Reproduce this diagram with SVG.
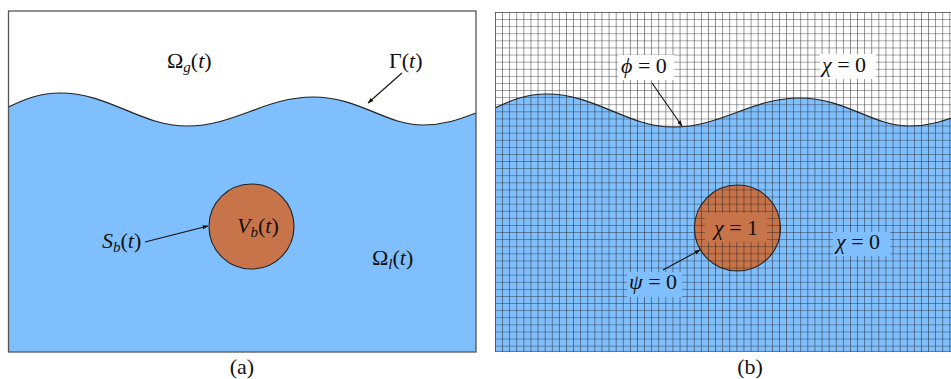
<svg xmlns="http://www.w3.org/2000/svg" width="951" height="379" viewBox="0 0 951 379">
<style>
text{font-family:"Liberation Serif",serif;font-size:22px;fill:#111}
.i{font-style:italic}
.s{font-size:15px;font-style:italic}
.cap{text-anchor:middle}
.bd{fill:none;stroke:#555;stroke-width:1.3}
.wave{fill:none;stroke:#222;stroke-width:1.2}
.liq{fill:#80bffe;stroke:none}
.bub{fill:#c8744a;stroke:#222;stroke-width:1.1}
.arr{fill:none;stroke:#111;stroke-width:1.1;marker-end:url(#ah)}
</style>
<defs>
<marker id="ah" viewBox="0 0 10 10" refX="9" refY="5" markerWidth="6" markerHeight="6" orient="auto" markerUnits="userSpaceOnUse">
<path d="M0,1.5 L10,5 L0,8.5 Z" fill="#111"/>
</marker>
<pattern id="grid" patternUnits="userSpaceOnUse" x="495" y="12" width="7.1" height="7.1">
<path d="M0,0 H7.1 M0,0 V7.1" fill="none" stroke="#1a1a1a" stroke-width="1.1" opacity="0.85"/>
</pattern>
<path id="wv" d="M8.5,107 C25,99 40,93 60,93 C110,93 140,126 187,126 C235,126 265,97 313,97 C360,97 385,125 423,125 C445,125 460,119 476,113"/>
<path id="liqshape" d="M8.5,107 C25,99 40,93 60,93 C110,93 140,126 187,126 C235,126 265,97 313,97 C360,97 385,125 423,125 C445,125 460,119 476,113 L476,352 L8.5,352 Z"/>
<clipPath id="cb"><rect x="495" y="12" width="470" height="340"/></clipPath>
</defs>

<g id="panel-a">
<rect x="8.5" y="11" width="467.5" height="341" fill="#fff"/>
<use href="#liqshape" class="liq"/>
<use href="#wv" class="wave"/>
<rect class="bd" x="8.5" y="11" width="467.5" height="341"/>
</g>

<g id="panel-b" clip-path="url(#cb)">
<rect x="495" y="12" width="470" height="340" fill="#fff"/>
<use href="#liqshape" class="liq" transform="translate(486.5,1)"/>
<circle cx="737.5" cy="228" r="43" fill="#c8744a"/>
<rect x="495" y="12" width="470" height="340" fill="url(#grid)"/>
<use href="#wv" class="wave" transform="translate(486.5,1)"/>
<circle cx="737.5" cy="228" r="43" fill="none" stroke="#222" stroke-width="1.1"/>
<rect class="bd" x="495" y="12" width="470" height="340"/>
</g>

<g id="bubble-a">
<circle class="bub" cx="251.5" cy="226.5" r="42.5"/>
<text x="237" y="233"><tspan class="i">V</tspan><tspan class="s" dy="4">b</tspan><tspan dy="-4">(</tspan><tspan class="i">t</tspan>)</text>
</g>

<g id="labels-a">
<text x="167" y="68">Ω<tspan class="s" dy="4">g</tspan><tspan dy="-4">(</tspan><tspan class="i">t</tspan>)</text>
<text x="389" y="68">Γ(<tspan class="i">t</tspan>)</text>
<text x="102" y="248"><tspan class="i">S</tspan><tspan class="s" dy="4">b</tspan><tspan dy="-4">(</tspan><tspan class="i">t</tspan>)</text>
<text x="372" y="265">Ω<tspan class="s" dy="4">l</tspan><tspan dy="-4">(</tspan><tspan class="i">t</tspan>)</text>
</g>

<g id="labels-b">
<rect x="618" y="55" width="56" height="25" fill="#fff"/>
<text x="621" y="73"><tspan class="i">ϕ</tspan> = 0</text>
<rect x="820" y="54" width="56" height="25" fill="#fff"/>
<text x="822" y="72"><tspan class="i">χ</tspan> = 0</text>
<rect x="705" y="213" width="62" height="29" fill="#c8744a"/>
<text x="714" y="235"><tspan class="i">χ</tspan> = 1</text>
<rect x="833" y="232" width="57" height="24" fill="#80bffe"/>
<text x="836" y="249"><tspan class="i">χ</tspan> = 0</text>
<rect x="627" y="272" width="55" height="25" fill="#80bffe"/>
<text x="629" y="289"><tspan class="i">ψ</tspan> = 0</text>
</g>

<g id="connectors">
<path class="arr" d="M402,73 L368,103"/>
<path class="arr" d="M145,242 L208,226"/>
<path class="arr" d="M652,83 L682,126"/>
<path class="arr" d="M663,270 L700,250"/>
</g>

<g id="captions">
<text class="cap" x="242" y="374">(a)</text>
<text class="cap" x="750" y="374">(b)</text>
</g>
</svg>
